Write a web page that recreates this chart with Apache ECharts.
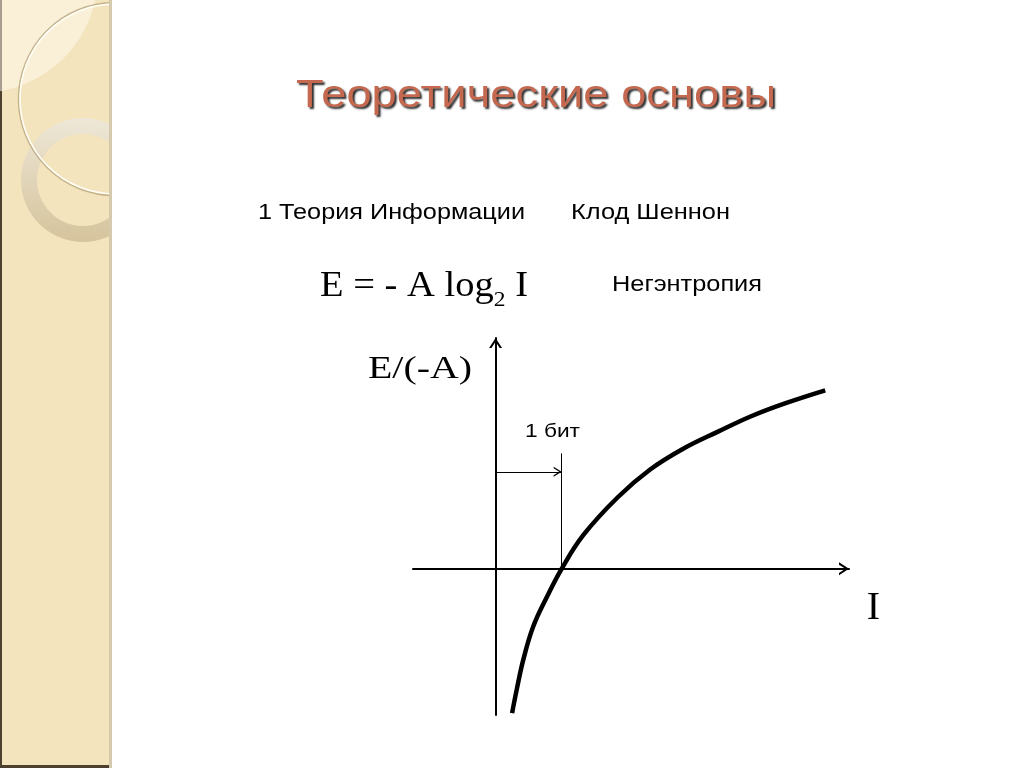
<!DOCTYPE html>
<html><head><meta charset="utf-8">
<script src="https://cdn.jsdelivr.net/npm/echarts@6/dist/echarts.min.js"></script>
<style>html,body{margin:0;padding:0;background:#fff}#c{width:1024px;height:768px}</style>
</head><body><div id="c"></div>
<script>
// ---- texts ----
const slideTitle = 'Теоретические основы';
const subtitleLeft = '1 Теория Информации';
const subtitleRight = 'Клод Шеннон';
const formulaMain = 'E = - A log';
const formulaSub = '2';
const formulaTail = ' I';
const formulaNote = 'Негэнтропия';
const yAxisTitle = 'E/(-A)';
const xAxisTitle = 'I';
const bitLabel = '1 бит';

// ---- data ----
const curveI = [0.25, 0.32, 0.42, 0.57, 0.78, 1.0, 1.33, 1.85, 2.34, 2.84, 3.36, 3.86, 4.38, 4.99];
const curveE = [-1.875, -1.57, -1.18, -0.75, -0.36, 0, 0.44, 0.93, 1.29, 1.56, 1.78, 1.98, 2.15, 2.32];
const bitI = [0, 1];          // arrow "1 бит" from I=0 to I=1
const bitArrowE = 1.26;       // height of the arrow
const bitLineE = [0, 1.5];    // vertical marker at I=1

// ---- helpers ----
const SANS = '"Liberation Sans", Arial, sans-serif';
const SERIF = '"Liberation Serif", "Times New Roman", serif';
const mctx = document.createElement('canvas').getContext('2d');
function textWidth(t, font) { mctx.font = font; return mctx.measureText(t).width; }
function label(text, size, family, left, mid, target, fill, extraStyle, align) {
  const font = size + 'px ' + family;
  const s = target ? target / textWidth(text, font) : 1;
  return {
    type: 'text', x: left, y: mid, scaleX: s, silent: true, z: 10,
    style: Object.assign({
      text: text, font: font, fill: fill || '#000',
      textAlign: align || 'left', align: align || 'left',
      textVerticalAlign: 'middle', verticalAlign: 'middle'
    }, extraStyle || {})
  };
}

const axisArrow = 'path://M0,10L6.5,0L13,10L10.6,10L6.5,3.67L2.4,10Z';
const thinArrow = 'path://M0,8L5,0L10,8L8.5,8L5,2.4L1.5,8Z';

// formula pieces
const fMainFont = '36px ' + SERIF, fSubFont = '22px ' + SERIF;
const w1 = textWidth(formulaMain, fMainFont), w2 = textWidth(formulaSub, fSubFont), w3 = textWidth(formulaTail, fMainFont);
const fs = 208 / (w1 + w2 + w3);

const graphics = [
  // decorative left panel
  { type: 'rect', silent: true, z: 0, shape: { x: 0, y: 0, width: 112, height: 768 }, style: { fill: '#F3E4BD' } },
  { type: 'rect', silent: true, z: 0, shape: { x: 0, y: 0, width: 2, height: 768 }, style: { fill: '#4E4030' } },
  { type: 'rect', silent: true, z: 0, shape: { x: 0, y: 765, width: 112, height: 3 }, style: { fill: '#4E4030' } },
  { type: 'circle', silent: true, z: 0, shape: { cx: -20, cy: -25, r: 118 }, style: { fill: 'rgba(255,252,242,0.5)' } },
  { type: 'ring', silent: true, z: 0, shape: { cx: 83, cy: 180, r: 62, r0: 46 },
    style: { fill: { type: 'linear', x: 0, y: 0, x2: 0, y2: 1, colorStops: [
      { offset: 0, color: 'rgba(238,232,218,0.95)' }, { offset: 1, color: 'rgba(208,190,150,0.85)' }] } } },
  { type: 'circle', silent: true, z: 0, shape: { cx: 115, cy: 99, r: 96.5 }, style: { fill: 'none', stroke: 'rgba(175,155,115,0.7)', lineWidth: 1.5 } },
  { type: 'circle', silent: true, z: 0, shape: { cx: 115, cy: 99, r: 95 }, style: { fill: 'none', stroke: '#FFFDF5', lineWidth: 1.6 } },
  { type: 'rect', silent: true, z: 0, shape: { x: 112, y: 0, width: 120, height: 320 }, style: { fill: '#FFFFFF' } },
  { type: 'rect', silent: true, z: 0, shape: { x: 109, y: 0, width: 3, height: 768 }, style: { fill: '#D6CAAE' } },

  // texts
  label(slideTitle, 38, SANS, 536, 96.5, 480, '#C4694F',
    { textShadowColor: 'rgba(20,20,20,0.9)', textShadowOffsetX: 2, textShadowOffsetY: 2, textShadowBlur: 2 }, 'center'),
  label(subtitleLeft, 22, SANS, 258, 213, 267),
  label(subtitleRight, 22, SANS, 571, 213, 159),
  label(formulaNote, 22, SANS, 612, 285, 150),
  label(formulaMain, 36, SERIF, 320, 287, w1 * fs),
  label(formulaSub, 22, SERIF, 320 + w1 * fs, 300, w2 * fs),
  label(formulaTail, 36, SERIF, 320 + (w1 + w2) * fs, 287, w3 * fs),
  label(yAxisTitle, 31, SERIF, 368, 370, 104),
  label(xAxisTitle, 40, SERIF, 873.5, 608.5, 0, '#000', null, 'center'),
  label(bitLabel, 19, SANS, 525, 431.5, 55)
];

const chart = echarts.init(document.getElementById('c'), null, { renderer: 'canvas' });
chart.setOption({
  animation: false,
  backgroundColor: '#ffffff',
  grid: { left: 413, right: 175, top: 338, bottom: 53 },
  xAxis: {
    type: 'value', min: -1.25, max: 5.35,
    axisLine: { onZero: true, lineStyle: { color: '#000', width: 2 }, symbol: ['none', axisArrow], symbolSize: [13, 10], symbolOffset: [0, -5] },
    axisTick: { show: false }, axisLabel: { show: false }, splitLine: { show: false }
  },
  yAxis: {
    type: 'value', min: -1.9, max: 3.0,
    axisLine: { onZero: true, lineStyle: { color: '#000', width: 2 }, symbol: ['none', axisArrow], symbolSize: [13, 10], symbolOffset: [0, -5] },
    axisTick: { show: false }, axisLabel: { show: false }, splitLine: { show: false }
  },
  series: [{
    type: 'line',
    data: curveI.map((v, i) => [v, curveE[i]]),
    smooth: 0.4,
    symbol: 'none', showSymbol: false,
    lineStyle: { color: '#000', width: 4.5 },
    silent: true,
    markLine: {
      silent: true, animation: false,
      symbol: ['none', 'none'],
      label: { show: false },
      lineStyle: { color: '#000', width: 1, type: 'solid' },
      emphasis: { disabled: true },
      data: [
        [{ coord: [bitI[0], bitArrowE], symbol: 'none' },
         { coord: [bitI[1], bitArrowE], symbol: thinArrow, symbolSize: [10, 8], symbolOffset: [0, 4] }],
        [{ coord: [bitI[1], bitLineE[0]], symbol: 'none' },
         { coord: [bitI[1], bitLineE[1]], symbol: 'none' }]
      ]
    }
  }],
  graphic: graphics
});
</script>
</body></html>
